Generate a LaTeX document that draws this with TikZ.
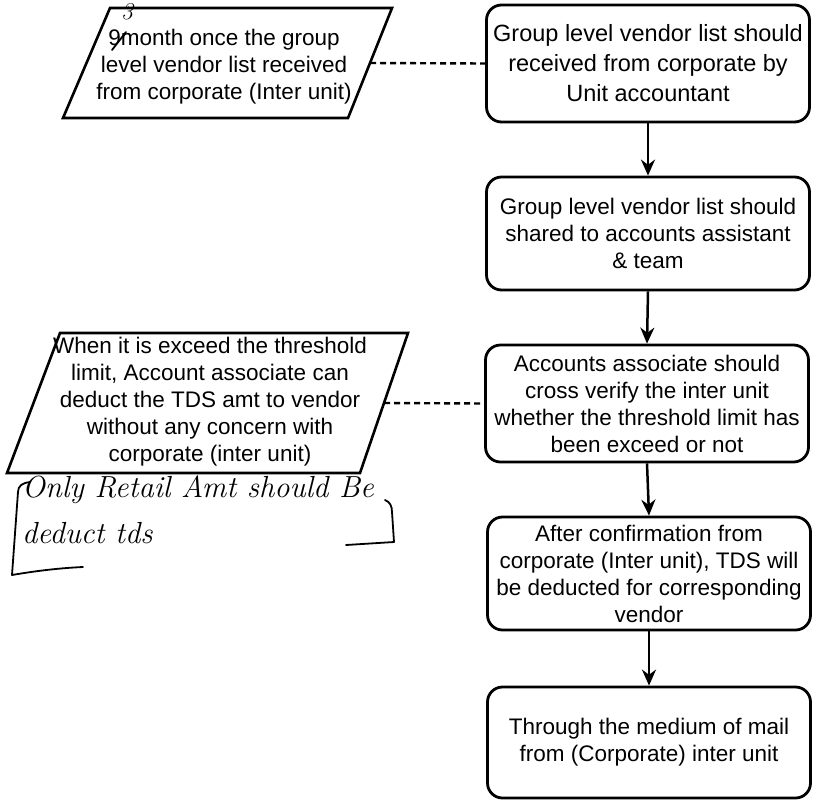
\documentclass[tikz,border=0pt]{standalone}
\usepackage{fontspec}
\setmainfont{Liberation Sans}
\newfontfamily\handfont{Latin Modern Roman}
\usetikzlibrary{arrows.meta}
\tikzset{
  stepbox/.style={draw=black, line width=2.8pt, rounded corners=15pt, minimum width=323pt, inner sep=0pt, align=center, font=\fontsize{22.5}{27}\selectfont},
  notebox/.style={draw=black, line width=2.6pt, line join=miter},
  notetext/.style={align=center, inner sep=0pt, font=\fontsize{22.5}{27}\selectfont},
  flow/.style={line width=2.5pt, -{Stealth[length=16pt,width=14pt]}},
  link/.style={line width=2.4pt, dash pattern=on 6pt off 4pt},
  hand/.style={line width=1.8pt, line cap=round, line join=round},
  handtxt/.style={inner sep=0pt, anchor=base west, font=\handfont\itshape\fontsize{30.5}{32}\selectfont}
}
\begin{document}
\begin{tikzpicture}[x=1pt,y=-1pt]
\useasboundingbox (0,0) rectangle (813,801);
% right column
\node[stepbox, minimum height=117pt, font=\fontsize{23.5}{30}\selectfont] (b1) at (648,63.5) {Group level vendor list should\\received from corporate by\\Unit accountant};
\node[stepbox, minimum height=113pt] (b2) at (648,233.5) {Group level vendor list should\\shared to accounts assistant\\\& team};
\node[stepbox, minimum height=117pt] (b3) at (647,403.5) {Accounts associate should\\cross verify the inter unit\\whether the threshold limit has\\been exceed or not};
\node[stepbox, minimum height=113pt] (b4) at (649,573.5) {After confirmation from\\corporate (Inter unit), TDS will\\be deducted for corresponding\\vendor};
\node[stepbox, minimum height=111pt] (b5) at (649,742.5) {Through the medium of mail\\from (Corporate) inter unit};
\draw[flow] (b1.south) -- (b2.north);
\draw[flow] (b2.south) -- (b3.north);
\draw[flow] (b3.south) -- (b4.north);
\draw[flow] (b4.south) -- (b5.north);
% left note 1
\draw[notebox] (110,8) -- (392,8) -- (348,118) -- (63,118) -- cycle;
\coordinate (p1r) at (370,63);
\node[notetext] (p1) at (224,67) {9month once the group\\level vendor list received\\from corporate (Inter unit)};
\node[inner sep=0pt, font=\handfont\itshape\fontsize{24}{24}\selectfont] (three) at (127,12) {3};
\draw[hand] (112,50) -- (126,32);
\draw[link] (p1r) -- (b1.west);
% left note 2
\draw[notebox] (60,333) -- (408,333) -- (360,473) -- (7,473) -- cycle;
\coordinate (p2r) at (384,403);
\node[notetext] (p2) at (210,402) {When it is exceed the threshold\\limit, Account associate can\\deduct the TDS amt to vendor\\without any concern with\\corporate (inter unit)};
\draw[link] (p2r) -- (b3.west);
% handwritten remark
\node[handtxt] (h1) at (22,497) {Only Retail Amt should Be};
\node[handtxt] (h2) at (22,543) {deduct tds};
\draw[hand] (30,482) .. controls (22,483) and (18,486) .. (18,492) -- (12,575) .. controls (35,571) and (60,568) .. (83,567);
\draw[hand] (385,500) .. controls (390,502) and (392,506) .. (392,512) -- (394,542) -- (346,545);
\end{tikzpicture}
\end{document}
